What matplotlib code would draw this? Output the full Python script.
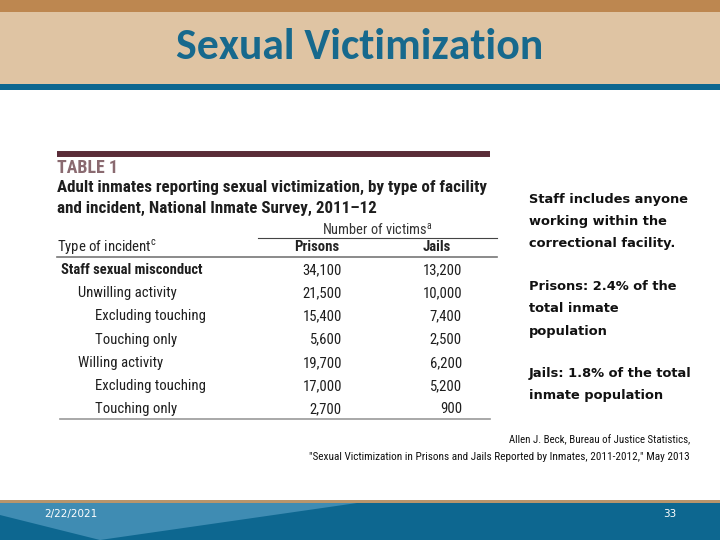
import matplotlib

matplotlib.use("Agg")

import matplotlib.pyplot as plt
from matplotlib import font_manager
from matplotlib.patches import Rectangle, Polygon

# table content
incident_types = ["Staff sexual misconduct", "Unwilling activity", "Excluding touching",
                  "Touching only", "Willing activity", "Excluding touching", "Touching only"]
indent_level = [0, 1, 2, 2, 1, 2, 2]
prisons = ["34,100", "21,500", "15,400", "5,600", "19,700", "17,000", "2,700"]
jails = ["13,200", "10,000", "7,400", "2,500", "6,200", "5,200", "900"]

notes = [["Staff includes anyone", "working within the", "correctional facility."],
         ["Prisons: 2.4% of the", "total inmate", "population"],
         ["Jails: 1.8% of the total", "inmate population"]]

TAN_DARK = "#bd8750"
TAN_LIGHT = "#dfc4a3"
BLUE = "#0d6790"
MAROON = "#5a2c38"


def pick_family(candidates):
    # first family that has a static regular and bold face
    faces = {}
    for f in font_manager.fontManager.ttflist:
        faces.setdefault(f.name, set()).add(f.weight)
    for c in candidates:
        w = faces.get(c, set())
        if 400 in w and 700 in w:
            return [c, "DejaVu Sans"]
    return ["DejaVu Sans"]


narrow = pick_family(["Roboto Condensed", "Fira Sans Condensed", "Archivo Narrow",
                      "Open Sans Condensed", "PT Sans Narrow", "Liberation Sans"])
title_font = pick_family(["Carlito", "Lato", "Open Sans"])

fig = plt.figure(figsize=(7.2, 5.4), dpi=100)
ax = fig.add_axes([0, 0, 1, 1])
ax.set_xlim(0, 720)
ax.set_ylim(540, 0)
ax.axis("off")
renderer = fig.canvas.get_renderer()


def fit(t, width):
    # shrink/grow a text so it spans the given pixel width
    w = t.get_window_extent(renderer).width
    t.set_fontsize(t.get_fontsize() * width / w)
    return t.get_fontsize()


def fit_size(s, width, **kw):
    t = ax.text(0, 0, s, fontsize=10, family=narrow, **kw)
    fs = fit(t, width)
    t.remove()
    return fs


# header bands
ax.add_patch(Rectangle((0, 0), 720, 12, color=TAN_DARK, lw=0))
ax.add_patch(Rectangle((0, 12), 720, 72, color=TAN_LIGHT, lw=0))
ax.add_patch(Rectangle((0, 84), 720, 6, color=BLUE, lw=0))
t = ax.text(360, 47, "Sexual Victimization", ha="center", va="center", fontsize=21,
            fontweight="bold", color="#17698d", family=title_font)
fit(t, 367)

# footer
ax.add_patch(Rectangle((0, 500), 720, 3, color="#b8956c", lw=0))
ax.add_patch(Rectangle((0, 503), 720, 37, color=BLUE, lw=0))
ax.add_patch(Polygon([(0, 503), (357, 503), (100, 540), (0, 515)], color="#3f8cb3", lw=0))
ax.text(44, 514, "2/22/2021", ha="left", va="center", fontsize=7.5, color="white",
        family=["DejaVu Sans"])
ax.text(670, 514, "33", ha="center", va="center", fontsize=7.5, color="white",
        family=["DejaVu Sans"])

# table
ax.plot([57, 490], [153.5, 153.5], color=MAROON, lw=4.3, solid_capstyle="butt")
t = ax.text(57, 168, "TABLE 1", ha="left", va="center", fontsize=11, fontweight="bold",
            color="#8a6a70", family=narrow)
fit(t, 61)
t = ax.text(57, 187, "Adult inmates reporting sexual victimization, by type of facility",
            ha="left", va="center", fontsize=11.5, fontweight="bold", color="#1e1e1e", family=narrow)
head_fs = fit(t, 430)
ax.text(57, 208, "and incident, National Inmate Survey, 2011\u201312",
        ha="left", va="center", fontsize=head_fs, fontweight="bold", color="#1e1e1e",
        family=narrow)
t = ax.text(377, 230, "Number of victims$^{\\mathregular{a}}$", ha="center", va="center", fontsize=9,
            color="#333333", family=narrow)
fit(t, 111)
ax.plot([258, 497], [238, 238], color="#444444", lw=0.8)
t = ax.text(57, 247, "Type of incident$^{\\mathregular{c}}$", ha="left", va="center", fontsize=9,
            color="#222222", family=narrow)
col_fs = fit(t, 100)
ax.text(317, 247, "Prisons", ha="center", va="center", fontsize=col_fs, color="#222222",
        fontweight="bold", family=narrow)
ax.text(437, 247, "Jails", ha="center", va="center", fontsize=col_fs, color="#222222",
        fontweight="bold", family=narrow)
ax.plot([57, 497], [257, 257], color="#777777", lw=1.2)

row_y0, row_h = 270, 23.2
bold_fs = fit_size(incident_types[0], 141, fontweight="bold")
row_fs = fit_size("Excluding touching", 110)
num_fs = fit_size("34,100", 39)
for i, (name, lvl, p, j) in enumerate(zip(incident_types, indent_level, prisons, jails)):
    y = row_y0 + i * row_h
    ax.text(61 + lvl * 17, y, name, ha="left", va="center",
            fontsize=bold_fs if lvl == 0 else row_fs, color="#1e1e1e", family=narrow,
            fontweight="bold" if lvl == 0 else "normal")
    ax.text(342, y, p, ha="right", va="center", fontsize=num_fs, color="#1e1e1e", family=narrow)
    ax.text(462, y, j, ha="right", va="center", fontsize=num_fs, color="#1e1e1e", family=narrow)
ax.plot([60, 490], [419, 419], color="#999999", lw=1.2)

# notes on the right, one baseline per line
for lines, y0 in zip(notes, [203.5, 290.5, 376.5]):
    for k, line in enumerate(lines):
        ax.text(529, y0 + k * 22, line, ha="left", va="baseline", fontsize=9.4,
                fontweight="bold", color="#111111", family=["DejaVu Sans"])

# citation
t = ax.text(690, 440, "Allen J. Beck, Bureau of Justice Statistics,", ha="right", va="center",
            fontsize=6.2, color="#111111", family=narrow)
fit(t, 180)
t = ax.text(690, 457, "\"Sexual Victimization in Prisons and Jails Reported by Inmates, 2011-2012,\" May 2013",
            ha="right", va="center", fontsize=6.2, color="#111111", family=narrow)
fit(t, 380)

fig.savefig("out.png", dpi=100)
